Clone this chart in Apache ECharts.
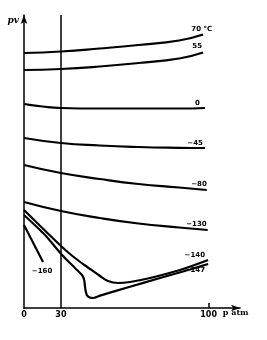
<!DOCTYPE html>
<html>
<head>
<meta charset="utf-8">
<script src="https://cdn.jsdelivr.net/npm/echarts@6/dist/echarts.min.js"></script>
<style>html,body{margin:0;padding:0;background:#fff}#c{width:267px;height:340px}</style>
</head>
<body>
<div id="c"></div>
<script>
// isotherm names (°C)
const seriesNames = ['70 °C', '55', '0', '−45', '−80', '−130', '−140', '−147', '−160'];
// pv (arbitrary units) against p (atm)
const t70   = [[0,255],[20,256.5],[41,259.5],[62,263],[84,267.5],[97,273.5]];
const t55   = [[0,238],[20,239],[41,241.5],[62,245],[84,249.5],[97,255.5]];
const t0    = [[0,204],[10,201.5],[20,200],[41,199.5],[62,199.5],[84,199.5],[98,200]];
const tm45  = [[0,170],[20,165],[41,162.5],[62,161],[84,160.2],[98,160]];
const tm80  = [[0,143],[20,135],[41,129],[62,124],[84,120.5],[99,118]];
const tm130 = [[0,106],[20,97],[41,90],[62,84.5],[84,80.5],[99.5,78]];
const tm140 = [[0,98],[20.6,61],[27.6,50],[35.8,39],[41.2,32],[45.5,27],[50.9,25],[57.4,26],[68.3,30],[84.5,38],[99.7,48]];
const tm147 = [[0,93],[11.4,73],[20.6,53],[27.6,40],[31.4,33],[32.6,28],[33.2,19],[34,13],[35.6,10.5],[37.5,10],[41.2,12.4],[57.4,21.2],[73.7,30],[89.9,38.5],[99.7,44]];
const tm160 = [[0,83],[10.3,46]];
// x-axis tick values and their printed labels
const xTickValues = [0, 20, 100];
const xTickLabels = ['0', '30', '100'];
const markedP = 20;

const allData = [t70, t55, t0, tm45, tm80, tm130, tm140, tm147, tm160];
const labelOffsets = [[9,-5],[-1,-6],[-5,-5],[-2,-5],[0,-6],[-1,-6],[-3,-5],[-3,6],[-1,9]];
const labelAligns = ['right','right','right','right','right','right','right','right','center'];
const smoothness = [0.5,0.5,0.5,0.5,0.5,0.5,0.35,0.2,0];

const chart = echarts.init(document.getElementById('c'), null, {renderer: 'canvas'});
const series = allData.map((d, i) => ({
  name: seriesNames[i],
  type: 'line',
  data: d,
  smooth: smoothness[i],
  showSymbol: false,
  symbol: 'none',
  lineStyle: {color: '#000', width: 2.2},
  endLabel: {
    show: true,
    formatter: seriesNames[i],
    align: labelAligns[i],
    verticalAlign: 'middle',
    distance: 0,
    offset: labelOffsets[i],
    color: '#000',
    fontFamily: 'DejaVu Sans',
    fontWeight: 'bold',
    fontSize: 7
  },
  markLine: i === 0 ? {
    silent: true,
    symbol: ['none', 'none'],
    label: {show: false},
    lineStyle: {color: '#000', width: 1.5, type: 'solid'},
    data: [{xAxis: markedP}]
  } : undefined
}));

chart.setOption({
  animation: false,
  backgroundColor: '#fff',
  grid: {left: 24, top: 15, width: 216, height: 293},
  xAxis: {
    type: 'value', min: 0, max: 117,
    name: 'p atm', nameLocation: 'end', nameGap: 6,
    nameTextStyle: {color: '#000', fontFamily: 'DejaVu Serif', fontWeight: 'bold', fontSize: 8, align: 'right', verticalAlign: 'top', padding: [1,0,0,0]},
    axisLine: {show: true, lineStyle: {color: '#000', width: 1.5}, symbol: ['none','arrow'], symbolSize: [5,9]},
    axisTick: {show: true, inside: true, length: 5, customValues: [100], lineStyle: {color: '#000', width: 1.5}},
    axisLabel: {
      customValues: xTickValues, margin: 3, color: '#000',
      fontFamily: 'DejaVu Sans', fontWeight: 'bold', fontSize: 8,
      formatter: v => xTickLabels[xTickValues.indexOf(v)]
    },
    splitLine: {show: false}
  },
  yAxis: {
    type: 'value', min: 0, max: 293,
    name: 'pv', nameLocation: 'end', nameGap: -6,
    nameTextStyle: {color: '#000', fontFamily: 'DejaVu Serif', fontStyle: 'italic', fontWeight: 'bold', fontSize: 9, align: 'right', verticalAlign: 'middle', padding: [0,5,0,0]},
    axisLine: {show: true, lineStyle: {color: '#000', width: 1.5}, symbol: ['none','arrow'], symbolSize: [5,9]},
    axisTick: {show: false},
    axisLabel: {show: false},
    splitLine: {show: false}
  },
  series: series
});
</script>
</body>
</html>
